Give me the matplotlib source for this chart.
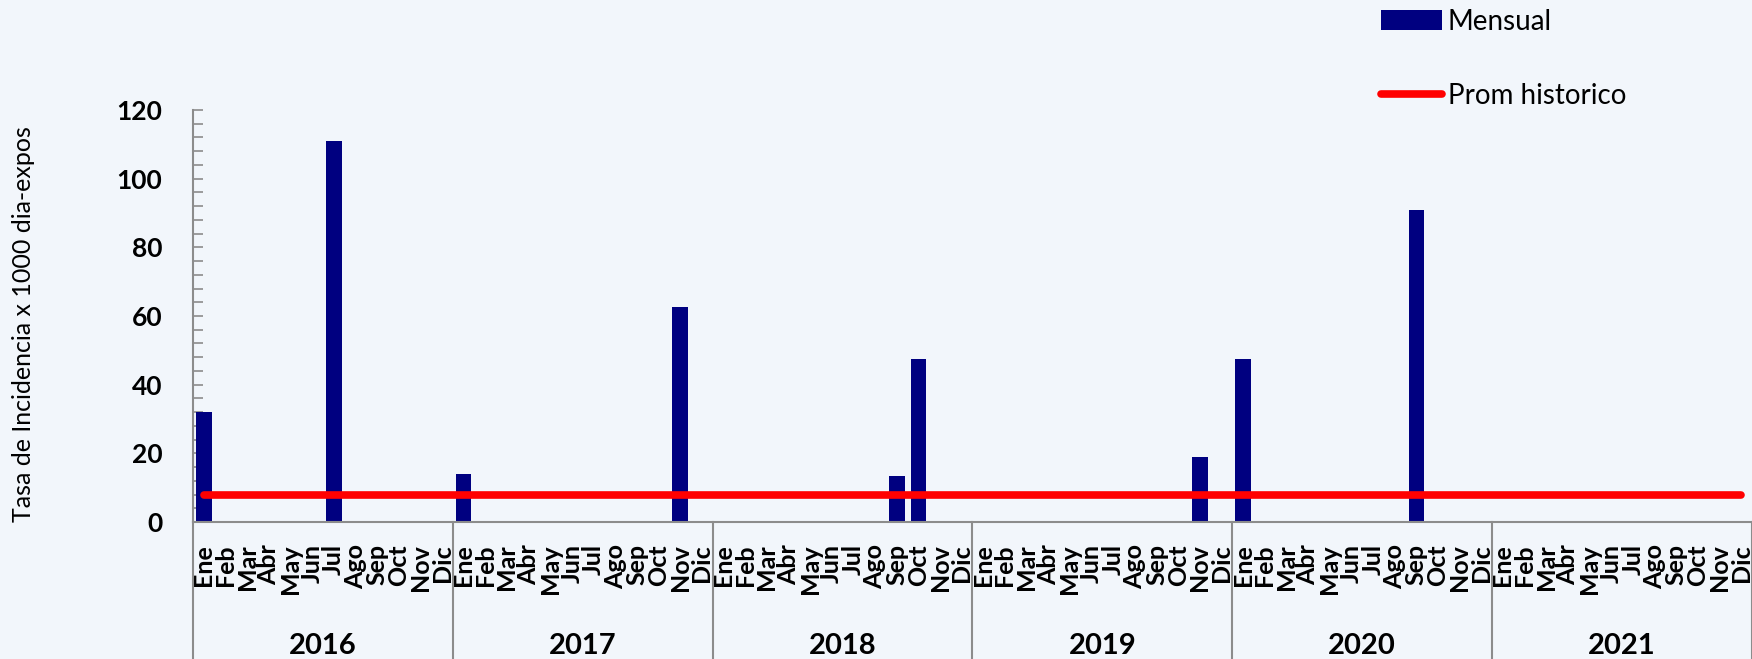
import matplotlib.pyplot as plt
import matplotlib.transforms as mtransforms
from matplotlib.lines import Line2D
from matplotlib.patches import Patch
from matplotlib.ticker import MultipleLocator
import numpy as np

plt.rcParams['font.family'] = ['Lato', 'DejaVu Sans']

# datos
years = ['2016', '2017', '2018', '2019', '2020', '2021']
months = ['Ene', 'Feb', 'Mar', 'Abr', 'May', 'Jun',
          'Jul', 'Ago', 'Sep', 'Oct', 'Nov', 'Dic']
mensual_2016 = [32, 0, 0, 0, 0, 0, 111, 0, 0, 0, 0, 0]
mensual_2017 = [14, 0, 0, 0, 0, 0, 0, 0, 0, 0, 62.5, 0]
mensual_2018 = [0, 0, 0, 0, 0, 0, 0, 0, 13.5, 47.5, 0, 0]
mensual_2019 = [0, 0, 0, 0, 0, 0, 0, 0, 0, 0, 19, 0]
mensual_2020 = [47.5, 0, 0, 0, 0, 0, 0, 0, 91, 0, 0, 0]
mensual_2021 = [0, 0, 0, 0, 0, 0, 0, 0, 0, 0, 0, 0]
prom_historico = 8

mensual = mensual_2016 + mensual_2017 + mensual_2018 + mensual_2019 + mensual_2020 + mensual_2021
labels = months * len(years)
x = np.arange(len(mensual))

bg = '#f2f6fb'
fig = plt.figure(figsize=(17.52, 6.59), dpi=100, facecolor=bg)
ax = fig.add_axes([193 / 1752, 1 - 522 / 659, 1 - 193 / 1752, (522 - 110) / 659])
ax.set_facecolor('none')

ax.bar(x, mensual, width=0.72, color='#000080', zorder=2)
ax.plot([x[0], x[-1]], [prom_historico] * 2, color='#ff0000', lw=5.5,
        solid_capstyle='round', zorder=3)

ax.set_xlim(-0.5, len(x) - 0.5)
ax.set_ylim(0, 120)
ax.yaxis.set_major_locator(MultipleLocator(20))
ax.yaxis.set_minor_locator(MultipleLocator(4))
ax.tick_params(axis='y', which='both', direction='in', length=7, color='#8c8c8c',
               width=1.2, pad=22, labelsize=19)
for t in ax.get_yticklabels():
    t.set_fontweight('bold')

ax.set_xticks(x)
ax.set_xticklabels(labels, rotation=90, fontsize=18, fontweight='bold')
ax.tick_params(axis='x', length=0, pad=16)

for s in ['top', 'right']:
    ax.spines[s].set_visible(False)
for s in ['left', 'bottom']:
    ax.spines[s].set_color('#8c8c8c')
    ax.spines[s].set_linewidth(1.5)

# separadores y etiquetas de año
trans = mtransforms.blended_transform_factory(ax.transData, ax.transAxes)
bottom = -(1 - 522 / 659) / ((522 - 110) / 659)
for k in range(len(years) + 1):
    ax.plot([k * 12 - 0.5] * 2, [0, bottom], color='#8c8c8c', lw=1.5,
            transform=trans, clip_on=False)
for k, yr in enumerate(years):
    ax.text(k * 12 + 5.5, (646 - 522) / -412, yr, transform=trans, ha='center',
            va='center', fontsize=21, fontweight='bold')

fig.text(24 / 1752, 1 - 324 / 659, 'Tasa de Incidencia x 1000 dia-expos',
         rotation=90, ha='center', va='center', fontsize=18)

handles = [Patch(facecolor='#000080', edgecolor='none'),
           Line2D([0], [0], color='#ff0000', lw=5.5, solid_capstyle='round')]
fig.legend(handles, ['Mensual', 'Prom historico'], loc='upper left',
           bbox_to_anchor=(1356 / 1752, 1.025), frameon=False, fontsize=20,
           handlelength=2.2, handletextpad=0.2, labelspacing=1.75)

fig.savefig('out.png', dpi=100, facecolor=bg)
